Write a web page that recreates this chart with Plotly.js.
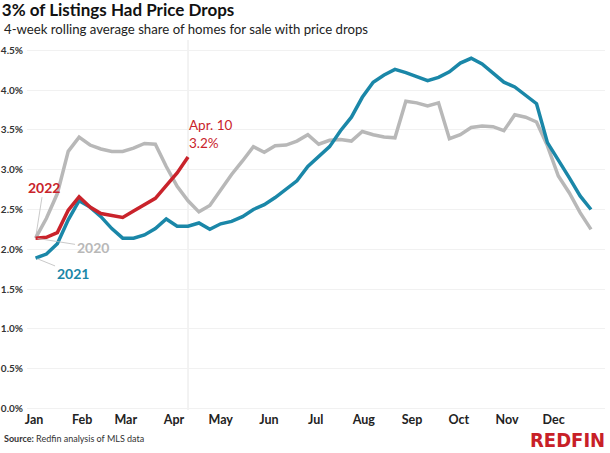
<!DOCTYPE html>
<html>
<head>
<meta charset="utf-8">
<script src="https://cdn.plot.ly/plotly-3.0.1.min.js"></script>
<style>html,body{margin:0;padding:0;background:#fff;}#chart{width:610px;height:453px;}</style>
</head>
<body>
<div id="chart"></div>
<script>
// Weekly 4-week rolling share of homes for sale with price drops (%)
const weekStart = '2022-01-02';
const monthTicks = ['Jan','Feb','Mar','Apr','May','Jun','Jul','Aug','Sep','Oct','Nov','Dec'];
const yTicks = [0, 0.5, 1, 1.5, 2, 2.5, 3, 3.5, 4, 4.5];

const series2020 = [2.14, 2.39, 2.70, 3.23, 3.41, 3.31, 3.26, 3.23, 3.23, 3.27,
                    3.33, 3.32, 3.04, 2.79, 2.61, 2.47, 2.55, 2.75, 2.94, 3.11,
                    3.29, 3.22, 3.30, 3.31, 3.36, 3.44, 3.32, 3.37, 3.38, 3.36,
                    3.48, 3.44, 3.41, 3.40, 3.86, 3.84, 3.80, 3.84, 3.39, 3.44,
                    3.53, 3.55, 3.54, 3.49, 3.69, 3.66, 3.60, 3.30, 2.92, 2.71,
                    2.46, 2.25];
const series2021 = [1.89, 1.94, 2.07, 2.37, 2.61, 2.53, 2.41, 2.26, 2.14, 2.14,
                    2.18, 2.26, 2.38, 2.29, 2.29, 2.33, 2.25, 2.32, 2.35, 2.41,
                    2.50, 2.56, 2.65, 2.75, 2.86, 3.04, 3.16, 3.29, 3.49, 3.66,
                    3.91, 4.10, 4.19, 4.26, 4.22, 4.17, 4.12, 4.16, 4.23, 4.34,
                    4.40, 4.33, 4.22, 4.10, 4.04, 3.93, 3.83, 3.34, 3.13, 2.90,
                    2.67, 2.50];
const series2022 = [2.14, 2.15, 2.21, 2.49, 2.66, 2.53, 2.45, 2.43, 2.40, 2.48,
                    2.56, 2.64, 2.80, 2.96, 3.16];
const latestDate = '2022-04-10';
const latestLabel = 'Apr. 10<br>3.2%';

const WEEK = 7 * 24 * 3600 * 1000;
const RED = '#c9232b', BLUE = '#1a87a8', GRAY = '#b8b8b8';
const FONT = 'Lato, "Libre Franklin", "Open Sans", sans-serif';

function trace(y, color) {
  return {type: 'scatter', mode: 'lines', x0: weekStart, dx: WEEK, y: y,
          line: {color: color, width: 3.5}, hoverinfo: 'skip'};
}

const data = [trace(series2020, GRAY), trace(series2021, BLUE), trace(series2022, RED)];

const monthVals = monthTicks.map((m, i) => '2022-' + String(i + 1).padStart(2, '0') + '-01');

const layout = {
  width: 610, height: 453,
  margin: {l: 27, r: 5, t: 40, b: 43},
  paper_bgcolor: '#fff', plot_bgcolor: '#fff',
  showlegend: false,
  font: {family: FONT, color: '#333'},
  title: {text: '3% of Listings Had Price Drops', xref: 'container', yref: 'container',
          x: 0.003, xanchor: 'left', y: 0.992, yanchor: 'top',
          font: {family: FONT, size: 17, weight: 700, color: '#111'}},
  xaxis: {type: 'date', range: ['2021-12-27 12:00', '2023-01-03'],
          tickvals: monthVals, ticktext: monthTicks, showgrid: false, zeroline: false,
          showline: false, ticks: '', tickfont: {size: 12.5, weight: 700, color: '#222'}},
  yaxis: {range: [-0.02, 4.63], tickvals: yTicks,
          ticktext: yTicks.map(v => v.toFixed(1) + '%'),
          showgrid: true, gridcolor: '#f1f1f1', gridwidth: 1, zeroline: false, showline: false,
          ticks: '', ticklabelstandoff: 3, tickfont: {size: 10, weight: 700, color: '#333'}},
  shapes: [{type: 'line', xref: 'x', yref: 'paper', x0: latestDate, x1: latestDate,
            y0: 0, y1: 1, line: {color: '#e6e6e6', width: 1}, layer: 'below'}],
  annotations: [
    {xref: 'paper', yref: 'paper', x: -0.0433, y: 1.031, xanchor: 'left', yanchor: 'middle',
     text: '4-week rolling average share of homes for sale with price drops', showarrow: false,
     font: {family: FONT, size: 13.2, color: '#222'}},
    {xref: 'x', yref: 'y', x: weekStart, y: series2022[0], text: '2022', showarrow: true,
     arrowhead: 0, arrowwidth: 0.8, arrowcolor: '#bbb', ax: 8, ay: -51, standoff: 2,
     font: {family: FONT, size: 14, weight: 700, color: RED}},
    {xref: 'x', yref: 'y', x: weekStart, y: series2020[0], text: '2020', showarrow: true,
     arrowhead: 0, arrowwidth: 0.8, arrowcolor: '#bbb', ax: 57, ay: 9, standoff: 2,
     font: {family: FONT, size: 14, weight: 700, color: GRAY}},
    {xref: 'x', yref: 'y', x: weekStart, y: series2021[0], text: '2021', showarrow: true,
     arrowhead: 0, arrowwidth: 0.8, arrowcolor: '#bbb', ax: 37, ay: 15, standoff: 2,
     font: {family: FONT, size: 14, weight: 700, color: BLUE}},
    {xref: 'x', yref: 'y', x: latestDate, y: series2022[series2022.length - 1],
     text: latestLabel, showarrow: false, xanchor: 'left', yanchor: 'bottom', align: 'left',
     xshift: -1, yshift: 4, font: {family: FONT, size: 13.5, weight: 400, color: RED}},
    {xref: 'paper', yref: 'paper', x: -0.0433, y: -0.0757, xanchor: 'left', yanchor: 'middle',
     text: '<b>Source:</b> Redfin analysis of MLS data', showarrow: false,
     font: {family: FONT, size: 9, color: '#333'}},
    {xref: 'paper', yref: 'paper', x: 1.004, y: -0.08, xanchor: 'right', yanchor: 'middle',
     text: 'REDFIN', showarrow: false,
     font: {family: '"Liberation Sans Narrow", "DejaVu Sans Condensed", sans-serif', size: 20, weight: 700, color: '#c82027'}}
  ]
};

Plotly.newPlot('chart', data, layout, {staticPlot: true, displayModeBar: false});
</script>
</body>
</html>
